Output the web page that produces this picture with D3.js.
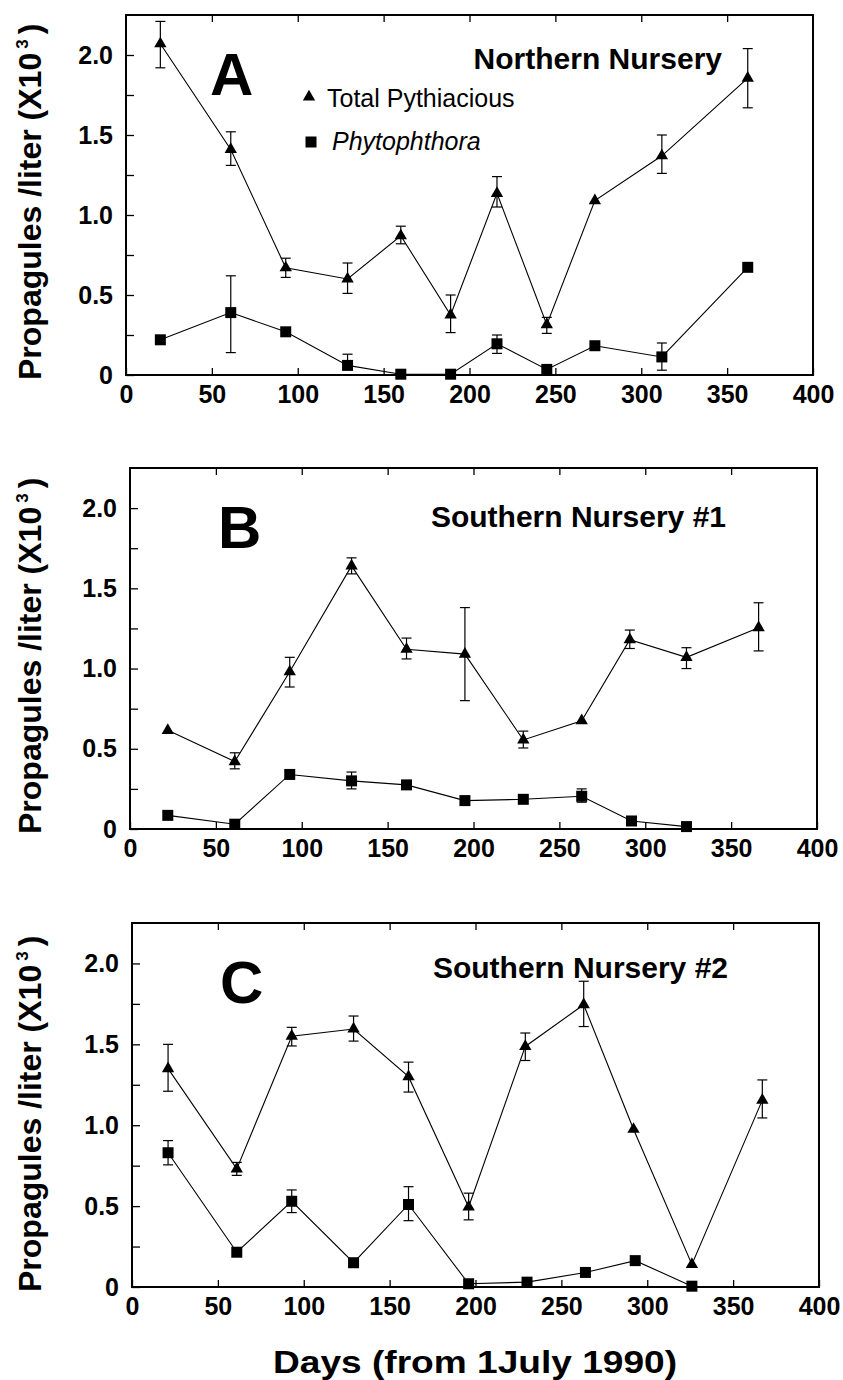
<!DOCTYPE html>
<html>
<head>
<meta charset="utf-8">
<script src="https://cdn.jsdelivr.net/npm/d3@7"></script>
<style>
  body { margin: 0; background: #fff; }
  svg { display: block; }
</style>
</head>
<body>
<script>
// data
var xTicks = [0, 50, 100, 150, 200, 250, 300, 350, 400];
var yTicks = [0, 0.25, 0.5, 0.75, 1.0, 1.25, 1.5, 1.75, 2.0];
var yTickLabels = ['0', '', '0.5', '', '1.0', '', '1.5', '', '2.0'];
var seriesNames = ['Total Pythiacious', 'Phytophthora'];

// A - Northern Nursery
var totalDaysA = [20, 61, 93, 129, 160, 189, 216, 245, 273, 312, 362];
var totalA     = [2.07, 1.41, 0.67, 0.60, 0.87, 0.375, 1.135, 0.315, 1.09, 1.37, 1.855];
var totalHiA   = [2.21, 1.52, 0.73, 0.70, 0.93, 0.50, 1.24, 0.36, null, 1.50, 2.04];
var totalLoA   = [1.92, 1.31, 0.61, 0.51, 0.82, 0.265, 1.05, 0.26, null, 1.26, 1.67];
var phytoDaysA = [20, 61, 93, 129, 160, 189, 216, 245, 273, 312, 362];
var phytoA     = [0.22, 0.39, 0.27, 0.06, 0.005, 0.005, 0.195, 0.035, 0.183, 0.113, 0.673];
var phytoHiA   = [null, 0.62, null, 0.13, null, null, 0.25, null, null, 0.20, null];
var phytoLoA   = [null, 0.14, null, null, null, null, 0.135, null, null, 0.03, null];

// B - Southern Nursery #1
var totalDaysB = [22, 61, 93, 129, 161, 195, 229, 263, 291, 324, 366];
var totalB     = [0.615, 0.42, 0.98, 1.64, 1.12, 1.09, 0.555, 0.675, 1.18, 1.07, 1.255];
var totalHiB   = [null, 0.475, 1.07, 1.69, 1.19, 1.38, 0.61, null, 1.24, 1.13, 1.41];
var totalLoB   = [null, 0.375, 0.885, 1.59, 1.06, 0.80, 0.505, null, 1.125, 1.00, 1.11];
var phytoDaysB = [22, 61, 93, 129, 161, 195, 229, 263, 292, 324];
var phytoB     = [0.085, 0.03, 0.34, 0.30, 0.275, 0.177, 0.185, 0.204, 0.05, 0.015];
var phytoHiB   = [null, null, null, 0.355, null, null, null, 0.25, null, null];
var phytoLoB   = [null, null, null, 0.25, null, null, null, 0.167, null, null];

// C - Southern Nursery #2
var totalDaysC = [21, 61, 93, 129, 161, 196, 229, 263, 292, 326, 367];
var totalC     = [1.35, 0.73, 1.55, 1.595, 1.30, 0.495, 1.487, 1.745, 0.975, 0.14, 1.155];
var totalHiC   = [1.50, 0.77, 1.605, 1.675, 1.39, 0.58, 1.57, 1.89, null, null, 1.28];
var totalLoC   = [1.21, 0.69, 1.49, 1.52, 1.205, 0.415, 1.40, 1.61, null, null, 1.045];
var phytoDaysC = [21, 61, 93, 129, 161, 196, 230, 264, 293, 326];
var phytoC     = [0.83, 0.215, 0.53, 0.15, 0.51, 0.02, 0.03, 0.09, 0.163, 0.005];
var phytoHiC   = [0.905, null, 0.60, null, 0.62, null, null, null, null, null];
var phytoLoC   = [0.755, null, 0.46, null, 0.41, null, null, null, null, null];

// ----------------------------------------------------------------------------
// panel layout
var panels = [
  { letter: 'A', title: 'Northern Nursery', left: 126, right: 813, top: 15, bottom: 375,
    letterX: 210, titleY: 69, legend: true,
    total: [totalDaysA, totalA, totalHiA, totalLoA], phyto: [phytoDaysA, phytoA, phytoHiA, phytoLoA] },
  { letter: 'B', title: 'Southern Nursery #1', left: 130, right: 817, top: 468, bottom: 829,
    letterX: 218, titleY: 527, legend: false,
    total: [totalDaysB, totalB, totalHiB, totalLoB], phyto: [phytoDaysB, phytoB, phytoHiB, phytoLoB] },
  { letter: 'C', title: 'Southern Nursery #2', left: 132, right: 819, top: 923, bottom: 1287,
    letterX: 220, titleY: 978, legend: false,
    total: [totalDaysC, totalC, totalHiC, totalLoC], phyto: [phytoDaysC, phytoC, phytoHiC, phytoLoC] }
];

var font = '"Liberation Sans", Arial, Helvetica, sans-serif';

var svg = d3.select('body').append('svg')
  .attr('width', 843)
  .attr('height', 1380)
  .style('background', '#fff');

var triangle = d3.symbol().type(d3.symbolTriangle).size(66);
var square = d3.symbol().type(d3.symbolSquare).size(121);

function toPoints( s ) {
  return s[0].map(function ( d, i ) {
    return { day: d, v: s[1][i], hi: s[2][i], lo: s[3][i] };
  });
}

panels.forEach(function ( p ) {
  var x = d3.scaleLinear().domain([0, 400]).range([p.left, p.right]);
  var y = d3.scaleLinear().domain([0, 2.25]).range([p.bottom, p.top]);
  var g = svg.append('g');

  // axes
  var bottomAxis = g.append('g')
    .attr('transform', 'translate(0,' + p.bottom + ')')
    .call(d3.axisBottom(x).tickValues(xTicks).tickSize(-7).tickPadding(10));
  var topAxis = g.append('g')
    .attr('transform', 'translate(0,' + p.top + ')')
    .call(d3.axisTop(x).tickValues(xTicks.slice(1, -1)).tickSize(-7).tickFormat(''));
  var leftAxis = g.append('g')
    .attr('transform', 'translate(' + p.left + ',0)')
    .call(d3.axisLeft(y).tickValues(yTicks).tickSize(-8).tickPadding(13)
      .tickFormat(function ( d, i ) { return yTickLabels[i]; }));

  [bottomAxis, topAxis, leftAxis].forEach(function ( a ) {
    a.select('.domain').remove();
    a.selectAll('line').attr('stroke', '#000').attr('stroke-width', 1.3);
    a.selectAll('text')
      .attr('fill', '#000')
      .style('font-family', font)
      .style('font-weight', 'bold')
      .style('font-size', '25px');
  });

  // frame
  g.append('rect')
    .attr('x', p.left)
    .attr('y', p.top)
    .attr('width', p.right - p.left)
    .attr('height', p.bottom - p.top)
    .attr('fill', 'none')
    .attr('stroke', '#000')
    .attr('stroke-width', 2);

  // y axis title
  var yt = g.append('text')
    .attr('transform', 'translate(41,' + (p.bottom + 5) + ') rotate(-90)')
    .style('font-family', font)
    .style('font-weight', 'bold')
    .style('font-size', '32px')
    .text('Propagules /liter (X10');
  yt.append('tspan').attr('dy', -13).attr('dx', 4).style('font-size', '17px').text('3');
  yt.append('tspan').attr('dy', 13).attr('dx', 5).text(')');

  // panel letter and title
  g.append('text')
    .attr('x', p.letterX)
    .attr('y', p.top + 80)
    .style('font-family', font)
    .style('font-weight', 'bold')
    .style('font-size', '60px')
    .text(p.letter);
  g.append('text')
    .attr('x', p.left + 596)
    .attr('y', p.titleY)
    .attr('text-anchor', 'end')
    .style('font-family', font)
    .style('font-weight', 'bold')
    .style('font-size', '30px')
    .text(p.title);

  // series
  var line = d3.line()
    .x(function ( d ) { return x(d.day); })
    .y(function ( d ) { return y(d.v); });

  [[toPoints(p.total), triangle], [toPoints(p.phyto), square]].forEach(function ( s ) {
    var pts = s[0];
    g.append('path')
      .datum(pts)
      .attr('d', line)
      .attr('fill', 'none')
      .attr('stroke', '#000')
      .attr('stroke-width', 1.1);

    // error bars
    var bars = g.selectAll(null)
      .data(pts.filter(function ( d ) { return d.hi !== null || d.lo !== null; }))
      .enter()
      .append('g');
    bars.append('line')
      .attr('x1', function ( d ) { return x(d.day); })
      .attr('x2', function ( d ) { return x(d.day); })
      .attr('y1', function ( d ) { return y(d.hi !== null ? d.hi : d.v); })
      .attr('y2', function ( d ) { return y(d.lo !== null ? d.lo : d.v); })
      .attr('stroke', '#000')
      .attr('stroke-width', 1.2);
    bars.filter(function ( d ) { return d.hi !== null; })
      .append('line')
      .attr('x1', function ( d ) { return x(d.day) - 5; })
      .attr('x2', function ( d ) { return x(d.day) + 5; })
      .attr('y1', function ( d ) { return y(d.hi); })
      .attr('y2', function ( d ) { return y(d.hi); })
      .attr('stroke', '#000')
      .attr('stroke-width', 1.2);
    bars.filter(function ( d ) { return d.lo !== null; })
      .append('line')
      .attr('x1', function ( d ) { return x(d.day) - 5; })
      .attr('x2', function ( d ) { return x(d.day) + 5; })
      .attr('y1', function ( d ) { return y(d.lo); })
      .attr('y2', function ( d ) { return y(d.lo); })
      .attr('stroke', '#000')
      .attr('stroke-width', 1.2);

    g.selectAll(null)
      .data(pts)
      .enter()
      .append('path')
      .attr('d', s[1])
      .attr('transform', function ( d ) {
        return 'translate(' + x(d.day) + ',' + y(d.v) + ')';
      })
      .attr('fill', '#000');
  });

  // legend
  if ( p.legend ) {
    g.append('path')
      .attr('d', triangle)
      .attr('transform', 'translate(309,97)')
      .attr('fill', '#000');
    g.append('text')
      .attr('x', 327)
      .attr('y', 107)
      .style('font-family', font)
      .style('font-size', '25px')
      .text(seriesNames[0]);
    g.append('path')
      .attr('d', square)
      .attr('transform', 'translate(311,142)')
      .attr('fill', '#000');
    g.append('text')
      .attr('x', 332)
      .attr('y', 150)
      .style('font-family', font)
      .style('font-style', 'italic')
      .style('font-size', '25px')
      .text(seriesNames[1]);
  }
});

// ----------------------------------------------------------------------------
// x axis title
svg.append('text')
  .attr('x', 475)
  .attr('y', 1373)
  .attr('text-anchor', 'middle')
  .attr('textLength', 404)
  .attr('lengthAdjust', 'spacingAndGlyphs')
  .style('font-family', font)
  .style('font-weight', 'bold')
  .style('font-size', '32px')
  .text('Days (from 1July 1990)');
</script>
</body>
</html>
